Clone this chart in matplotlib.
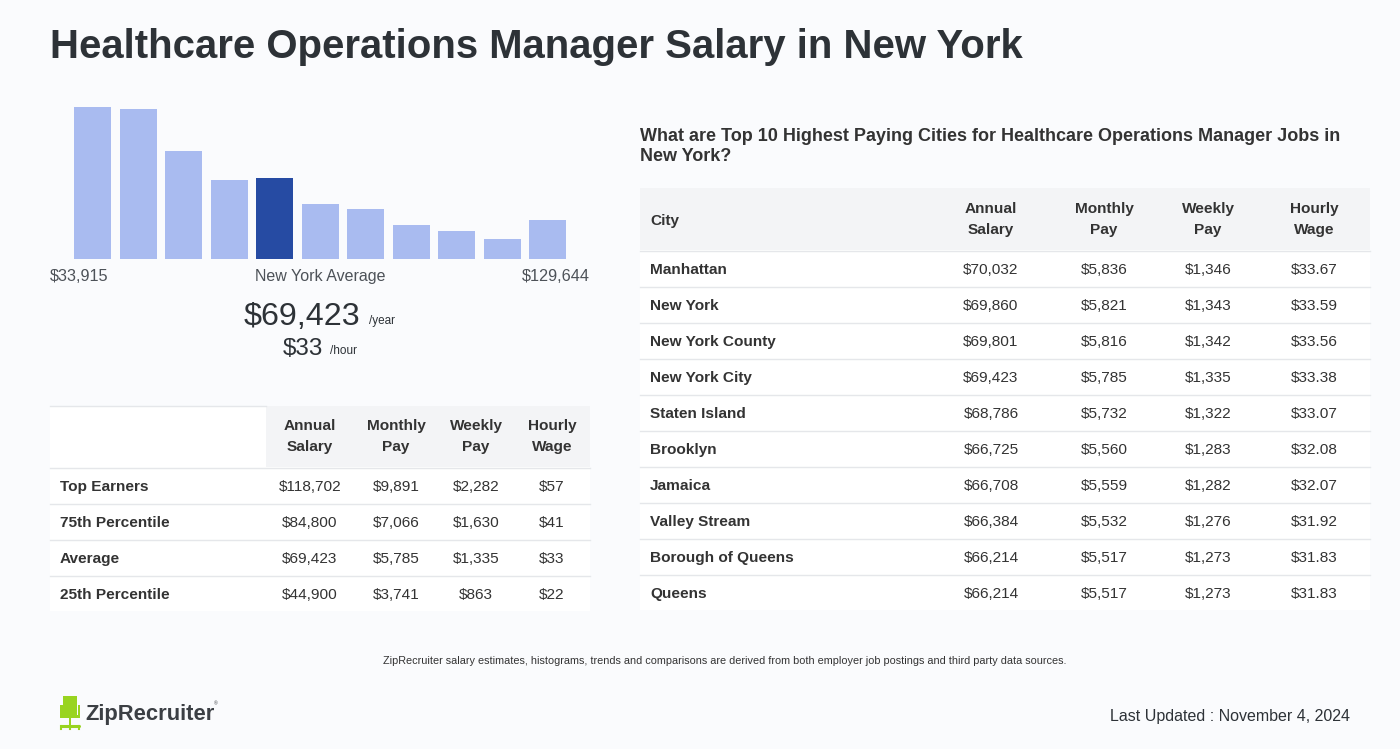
import matplotlib
matplotlib.use("Agg")
import matplotlib.pyplot as plt
from matplotlib.patches import Rectangle

plt.rcParams['font.family'] = ['Liberation Sans', 'DejaVu Sans']

# ---------------- data ----------------
title = "Healthcare Operations Manager Salary in New York"
hist_counts = [152, 150, 108, 79, 81, 55, 50, 34, 28, 20, 39]
highlight_bin = 4
range_low = "$33,915"
range_high = "$129,644"
avg_label = "New York Average"
avg_year = "$69,423"
avg_hour = "$33"

pct_columns = ["Annual\nSalary", "Monthly\nPay", "Weekly\nPay", "Hourly\nWage"]
pct_rows = ["Top Earners", "75th Percentile", "Average", "25th Percentile"]
pct_annual = ["$118,702", "$84,800", "$69,423", "$44,900"]
pct_monthly = ["$9,891", "$7,066", "$5,785", "$3,741"]
pct_weekly = ["$2,282", "$1,630", "$1,335", "$863"]
pct_hourly = ["$57", "$41", "$33", "$22"]

city_title = ("What are Top 10 Highest Paying Cities for Healthcare Operations Manager Jobs in\n"
              "New York?")
city_columns = ["City", "Annual\nSalary", "Monthly\nPay", "Weekly\nPay", "Hourly\nWage"]
cities = ["Manhattan", "New York", "New York County", "New York City", "Staten Island",
          "Brooklyn", "Jamaica", "Valley Stream", "Borough of Queens", "Queens"]
city_annual = ["$70,032", "$69,860", "$69,801", "$69,423", "$68,786",
               "$66,725", "$66,708", "$66,384", "$66,214", "$66,214"]
city_monthly = ["$5,836", "$5,821", "$5,816", "$5,785", "$5,732",
                "$5,560", "$5,559", "$5,532", "$5,517", "$5,517"]
city_weekly = ["$1,346", "$1,343", "$1,342", "$1,335", "$1,322",
               "$1,283", "$1,282", "$1,276", "$1,273", "$1,273"]
city_hourly = ["$33.67", "$33.59", "$33.56", "$33.38", "$33.07",
               "$32.08", "$32.07", "$31.92", "$31.83", "$31.83"]

footnote = ("ZipRecruiter salary estimates, histograms, trends and comparisons are derived "
            "from both employer job postings and third party data sources.")
updated = "Last Updated : November 4, 2024"

# ---------------- style ----------------
BG = "#fafbfd"
DARK = "#2d3237"
TXT = "#333333"
GREY = "#4d5258"
HEAD = "#f3f4f6"
LINE = "#e5e7ea"
LIGHT = "#a9bbf0"
DEEP = "#264ba3"
FS = 11.1

W, H = 1400, 749
fig = plt.figure(figsize=(W / 100, H / 100), dpi=100, facecolor=BG)

ov = fig.add_axes([0, 0, 1, 1])
ov.set_xlim(0, W)
ov.set_ylim(H, 0)
ov.axis("off")
ov.set_zorder(0)

def T(x, y, s, fontsize=FS, **kw):
    """Single-line text: y is the visual centre of the capitals."""
    kw.setdefault("color", TXT)
    base = y + 0.358 * fontsize * 100 / 72
    ov.text(x, base, s, fontsize=fontsize, va="baseline", **kw)

def TM(x, y, s, fontsize=FS, **kw):
    """Multi-line text centred on y."""
    kw.setdefault("color", TXT)
    ov.text(x, y + 1.5, s, fontsize=fontsize, va="center", **kw)

T(50, 44, title, fontsize=28.9, fontweight="bold", color=DARK, ha="left")

# ---------------- histogram ----------------
hx0, hx1, htop, hbot = 50, 590, 107, 259
hax = fig.add_axes([hx0 / W, (H - hbot) / H, (hx1 - hx0) / W, (hbot - htop) / H])
hax.set_facecolor("none")
step = 45.5
n = len(hist_counts)
hax.set_xlim(-(92.5 - hx0) / step, (n - 1) + (hx1 - 547.5) / step)
hax.set_ylim(0, max(hist_counts))
colors = [DEEP if i == highlight_bin else LIGHT for i in range(n)]
hax.bar(range(n), hist_counts, width=37 / step, color=colors)
hax.axis("off")

T(50, 275, range_low, fontsize=11.7, color=GREY, ha="left")
T(320, 275, avg_label, fontsize=11.5, color=GREY, ha="center")
T(590, 275, range_high, fontsize=11.7, color=GREY, ha="right")
T(360, 313, avg_year, fontsize=23.2, color=DARK, ha="right")
T(369, 320, "/year", fontsize=8.5, color=DARK, ha="left")
T(323, 346, avg_hour, fontsize=17.5, color=DARK, ha="right")
T(330, 350, "/hour", fontsize=8.5, color=DARK, ha="left")

# ---------------- percentile table ----------------
ov.add_patch(Rectangle((50, 406), 540, 205, facecolor="white", edgecolor="none"))
ov.add_patch(Rectangle((266, 406), 324, 61, facecolor=HEAD, edgecolor="none"))
ov.plot([50, 266], [405.5, 405.5], color=LINE, lw=1)
pcx = [310, 396, 476, 552]
for cx, h in zip(pcx, pct_columns):
    TM(cx, 435, h, fontweight="bold", ha="center", linespacing=1.6)
row_y = [485, 521, 557, 593]
for y in [467.5, 503.5, 539.5, 575.5]:
    ov.plot([50, 590], [y, y], color=LINE, lw=1)
for i, y in enumerate(row_y):
    T(60, y, pct_rows[i], fontweight="bold", ha="left")
    for cx, col in zip(pcx, [pct_annual, pct_monthly, pct_weekly, pct_hourly]):
        T(cx, y, col[i], ha="center")

# ---------------- city table ----------------
TM(640, 145, city_title, fontsize=13.0, fontweight="bold", ha="left", linespacing=1.25)
ov.add_patch(Rectangle((640, 188), 730, 422, facecolor="white", edgecolor="none"))
ov.add_patch(Rectangle((640, 188), 730, 62, facecolor=HEAD, edgecolor="none"))
ccx = [991, 1104, 1208, 1314]
T(650, 219, city_columns[0], fontweight="bold", ha="left")
for cx, h in zip(ccx, city_columns[1:]):
    TM(cx, 218, h, fontweight="bold", ha="center", linespacing=1.6)
for k in range(len(cities)):
    yl = 250.5 + 36 * k
    ov.plot([640, 1370], [yl, yl], color=LINE, lw=1)
    y = 268 + 36 * k
    T(650, y, cities[k], fontweight="bold", ha="left")
    for cx, col in zip(ccx, [city_annual, city_monthly, city_weekly, city_hourly]):
        T(cx, y, col[k], ha="center")

# ---------------- footer ----------------
T(725, 660, footnote, fontsize=7.85, ha="center", color=TXT)
T(1350, 715, updated, fontsize=11.5, ha="right", color=DARK)

# logo
GREEN = "#99d420"
ov.add_patch(Rectangle((63, 696), 14, 20, facecolor=GREEN, edgecolor="none"))
ov.add_patch(Rectangle((60, 705), 2.5, 11, facecolor=GREEN, edgecolor="none"))
ov.add_patch(Rectangle((77.5, 705), 2.5, 11, facecolor=GREEN, edgecolor="none"))
ov.add_patch(Rectangle((60, 715), 20, 3, facecolor=GREEN, edgecolor="none"))
ov.add_patch(Rectangle((68.7, 718), 2.6, 8, facecolor=GREEN, edgecolor="none"))
ov.plot([61, 79], [726, 726], color=GREEN, lw=2.2, solid_capstyle="round")
ov.plot([61, 61], [726, 729], color=GREEN, lw=1.5)
ov.plot([79, 79], [726, 729], color=GREEN, lw=1.5)
ov.plot([70, 70], [726, 729], color=GREEN, lw=1.5)
T(85, 712, "ZipRecruiter", fontsize=15.8, fontweight="bold", color="#3b3f44", ha="left")
T(213.5, 704, "®", fontsize=3.5, color="#3b3f44", ha="left")

fig.savefig("out.png", dpi=100, facecolor=BG)
